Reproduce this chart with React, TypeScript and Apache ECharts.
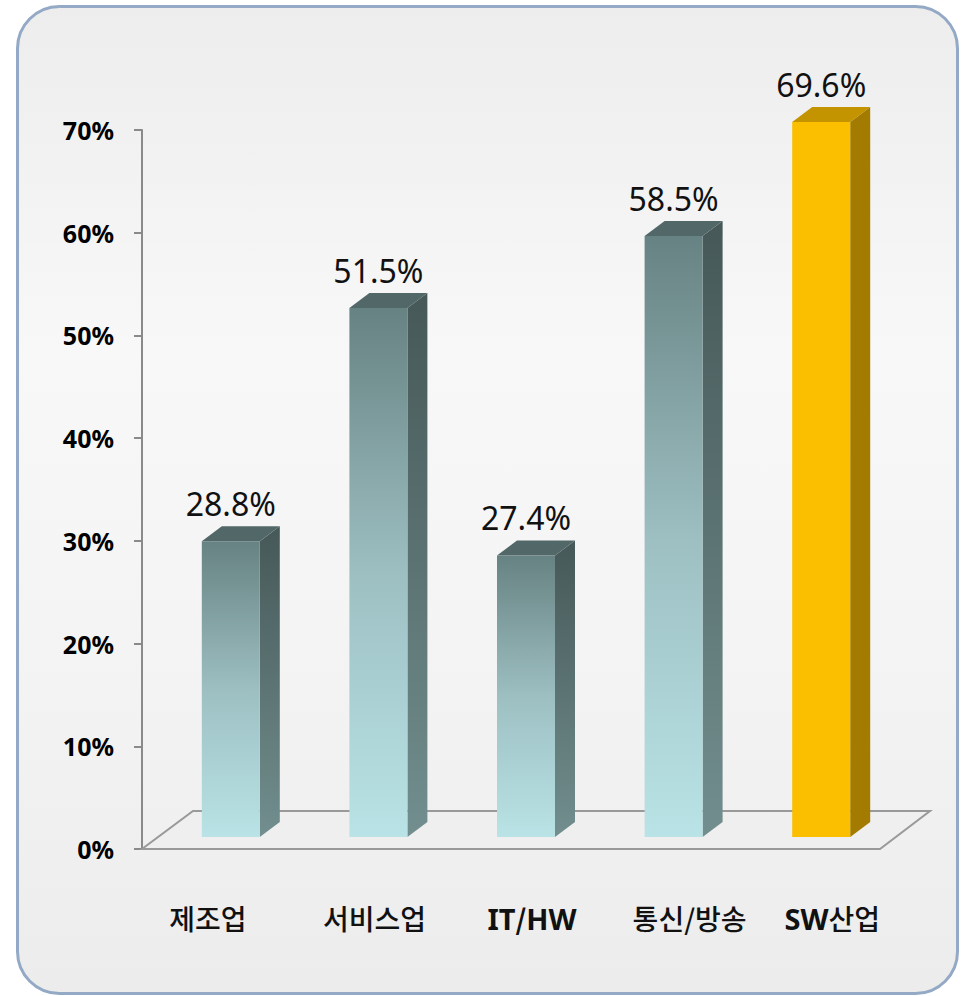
import React, { useEffect, useRef } from "react";
import * as echarts from "echarts";

const categories = ["제조업", "서비스업", "IT/HW", "통신/방송", "SW산업"];
const values = [28.8, 51.5, 27.4, 58.5, 69.6];
const yTicks = [0, 10, 20, 30, 40, 50, 60, 70];
const highlightCategory = "SW산업";

// layout constants (pixels)
const LABEL_SHIFT = [-8, 11, 21, 31, 26];
const BAR_SHIFT_X = 15;
const BAR_SHIFT_Y = 12;
const BAR_W = 58;
const DEPTH_X = 20;
const DEPTH_Y = 15;
const FLOOR_DX = 51;
const FLOOR_DY = 38;

function splitPieces(s: string) {
  const out: { t: string; latin: boolean }[] = [];
  const re = /([A-Za-z]+)|([^A-Za-z]+)/g;
  let m: RegExpExecArray | null;
  while ((m = re.exec(s))) {
    if (m[1]) out.push({ t: m[1], latin: true });
    else out.push({ t: m[2], latin: false });
  }
  return out;
}

export default function App() {
  const ref = useRef<HTMLDivElement>(null);
  useEffect(() => {
    if (!ref.current) return;
    const chart = echarts.init(ref.current, undefined, { renderer: "svg" });

    const rich: Record<string, any> = {};
    const formatted: string[] = categories.map((c, i) => {
      const pieces = splitPieces(c);
      const off = LABEL_SHIFT[i];
      return pieces
        .map((p, j) => {
          const key = `L${i}_${j}`;
          let padding = [0, 0, 0, 0];
          if (off > 0 && j === 0) padding = [0, 0, 0, off * 2];
          if (off < 0 && j === pieces.length - 1) padding = [0, -off * 2, 0, 0];
          const isSlash = p.t === "/";
          rich[key] = {
            fontFamily: p.latin ? "Noto Sans" : "Noto Sans CJK KR",
            fontWeight: p.latin || (isSlash && i === 2) ? "bold" : 500,
            fontSize: p.latin ? 29 : 28,
            color: "#111",
            height: 34,
            lineHeight: 34,
            padding,
          };
          return `{${key}|${p.t}}`;
        })
        .join("");
    });

    const option: any = {
      animation: false,
      graphic: [
        {
          type: "rect",
          z: -10,
          shape: { x: 17.5, y: 6.5, width: 940, height: 987, r: 42 },
          style: {
            fill: new echarts.graphic.LinearGradient(0, 0, 0, 1, [
              { offset: 0, color: "#ededed" },
              { offset: 0.35, color: "#f8f8f8" },
              { offset: 0.7, color: "#f3f3f3" },
              { offset: 1, color: "#ececec" },
            ]),
            stroke: "#93a9c6",
            lineWidth: 3,
          },
        },
      ],
      grid: { left: 142, right: 85, top: 130, bottom: 147 },
      xAxis: {
        type: "category",
        data: categories,
        axisLine: { show: false },
        axisTick: { show: false },
        axisLabel: {
          interval: 0,
          margin: 52,
          formatter: (_v: string, i: number) => formatted[i],
          rich,
        },
      },
      yAxis: {
        type: "value",
        min: yTicks[0],
        max: yTicks[yTicks.length - 1],
        interval: 10,
        splitLine: { show: false },
        axisLine: { show: true, lineStyle: { color: "#8a8a8a", width: 2 } },
        axisTick: { show: true, length: 8, lineStyle: { color: "#8a8a8a", width: 2 } },
        axisLabel: {
          margin: 28,
          formatter: (v: number) => `${v}%`,
          fontFamily: "Noto Sans",
          fontWeight: "bold",
          fontSize: 25,
          color: "#000",
        },
      },
      series: [
        {
          type: "custom",
          z: 1,
          silent: true,
          data: [[0, 0]],
          renderItem: (params: any, api: any) => {
            const cs = params.coordSys;
            const x0 = cs.x;
            const x1 = cs.x + cs.width;
            const y0 = cs.y + cs.height;
            return {
              type: "polygon",
              shape: {
                points: [
                  [x0, y0],
                  [x1, y0],
                  [x1 + FLOOR_DX - 1, y0 - FLOOR_DY],
                  [x0 + FLOOR_DX, y0 - FLOOR_DY],
                ],
              },
              style: { fill: "rgba(238,238,238,0.6)", stroke: "#999999", lineWidth: 2 },
            };
          },
        },
        {
          type: "custom",
          z: 3,
          data: values.map((v, i) => [i, v]),
          renderItem: (params: any, api: any) => {
            const i = api.value(0);
            const v = api.value(1);
            const base = api.coord([i, 0]);
            const top = api.coord([i, v]);
            const cx = base[0] + BAR_SHIFT_X;
            const by = base[1] - BAR_SHIFT_Y;
            const ty = top[1] - BAR_SHIFT_Y;
            const xl = cx - BAR_W / 2;
            const xr = cx + BAR_W / 2;
            const hl = categories[i] === highlightCategory;
            const frontFill = hl
              ? "#fbbf00"
              : new echarts.graphic.LinearGradient(0, 0, 0, 1, [
                  { offset: 0, color: "#678282" },
                  { offset: 0.5, color: "#9dbfc2" },
                  { offset: 1, color: "#b9e3e6" },
                ]);
            const sideFill = hl
              ? "#a27b00"
              : new echarts.graphic.LinearGradient(0, 0, 0, 1, [
                  { offset: 0, color: "#465858" },
                  { offset: 1, color: "#728e8e" },
                ]);
            const topFill = hl ? "#c49300" : "#526767";
            return {
              type: "group",
              children: [
                {
                  type: "polygon",
                  shape: {
                    points: [
                      [xr, ty],
                      [xr + DEPTH_X, ty - DEPTH_Y],
                      [xr + DEPTH_X, by - DEPTH_Y],
                      [xr, by],
                    ],
                  },
                  style: { fill: sideFill },
                },
                {
                  type: "polygon",
                  shape: {
                    points: [
                      [xl, ty],
                      [xl + DEPTH_X, ty - DEPTH_Y],
                      [xr + DEPTH_X, ty - DEPTH_Y],
                      [xr, ty],
                    ],
                  },
                  style: { fill: topFill },
                },
                {
                  type: "rect",
                  shape: { x: xl, y: ty, width: BAR_W, height: by - ty },
                  style: { fill: frontFill },
                },
                {
                  type: "text",
                  x: cx,
                  y: ty - 38,
                  style: {
                    text: `${v.toFixed(1)}%`,
                    fontFamily: "Noto Sans",
                    fontSize: 32,
                    fill: "#111",
                    align: "center",
                    verticalAlign: "middle",
                  },
                },
              ],
            };
          },
        },
      ],
    };
    chart.setOption(option);
    return () => chart.dispose();
  }, []);
  return (
    <div
      ref={ref}
      style={{ position: "absolute", left: 0, top: 0, width: 965, height: 996 }}
    />
  );
}
